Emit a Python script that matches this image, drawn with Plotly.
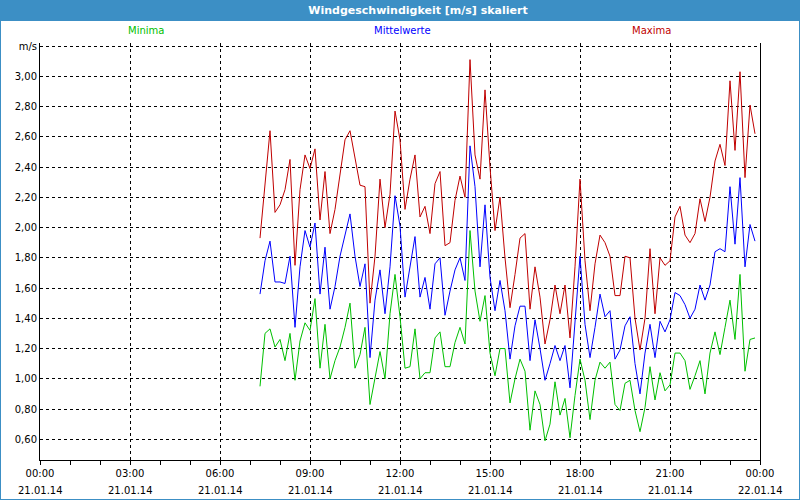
import plotly.graph_objects as go
import pandas as pd

# ---- data (10-minute values, 21.01.14 07:20 .. 23:50) ----
start_time = "2014-01-21 07:20"
n_points = 100

maxima = [
    1.93, 2.29, 2.64, 2.10, 2.15, 2.25, 2.45, 1.75, 2.25, 2.48, 2.39, 2.52, 2.05, 2.37, 1.96, 2.12, 2.36, 2.58,
    2.64, 2.45, 2.28, 2.27, 1.50, 1.81, 2.32, 2.00, 2.22, 2.77, 2.58, 2.12, 2.32, 2.48, 2.07, 2.14, 1.96,
    2.29, 2.37, 1.88, 1.90, 2.18, 2.34, 2.20, 3.11, 2.48, 2.32, 2.91, 2.40, 1.98, 2.20, 1.80, 1.47, 1.69,
    1.93, 1.96, 1.46, 1.74, 1.54, 1.23, 1.39, 1.62, 1.43, 1.62, 1.27, 1.74, 2.32, 1.78, 1.45, 1.76, 1.95,
    1.90, 1.81, 1.55, 1.55, 1.81, 1.80, 1.40, 1.19, 1.40, 1.86, 1.43, 1.80, 1.75, 1.78, 2.07, 2.14, 1.95,
    1.90, 1.96, 2.19, 2.04, 2.20, 2.44, 2.55, 2.41, 2.97, 2.51, 3.03, 2.33, 2.81, 2.62,
]
mittelwerte = [
    1.56, 1.78, 1.91, 1.64, 1.64, 1.63, 1.81, 1.34, 1.74, 1.98, 1.87, 2.03, 1.56, 1.87, 1.46, 1.61, 1.81, 1.94,
    2.09, 1.81, 1.61, 1.76, 1.14, 1.52, 1.72, 1.43, 1.74, 2.21, 2.01, 1.54, 1.74, 1.94, 1.54, 1.67, 1.46,
    1.76, 1.80, 1.42, 1.58, 1.72, 1.80, 1.65, 2.54, 2.27, 1.74, 2.15, 1.67, 1.45, 1.65, 1.45, 1.13, 1.35,
    1.48, 1.48, 1.12, 1.39, 1.20, 0.99, 1.10, 1.22, 1.12, 1.22, 0.94, 1.40, 1.81, 1.36, 1.14, 1.34, 1.56,
    1.41, 1.45, 1.13, 1.19, 1.35, 1.41, 1.10, 0.90, 1.17, 1.36, 1.14, 1.38, 1.31, 1.39, 1.57, 1.55, 1.49,
    1.40, 1.46, 1.62, 1.52, 1.62, 1.84, 1.86, 1.84, 2.27, 1.89, 2.33, 1.74, 2.02, 1.91,
]
minima = [
    0.95, 1.30, 1.33, 1.21, 1.26, 1.12, 1.30, 0.99, 1.25, 1.37, 1.32, 1.53, 1.07, 1.36, 1.00, 1.12, 1.21, 1.34,
    1.50, 1.07, 1.16, 1.34, 0.83, 1.01, 1.18, 1.00, 1.43, 1.69, 1.41, 1.07, 1.08, 1.33, 1.00, 1.04, 1.04,
    1.27, 1.31, 1.08, 1.08, 1.24, 1.34, 1.23, 1.98, 1.58, 1.38, 1.55, 1.17, 1.02, 1.20, 1.20, 0.84, 1.00,
    1.13, 1.05, 0.66, 0.92, 0.83, 0.59, 0.70, 0.98, 0.76, 0.87, 0.61, 0.89, 1.13, 0.99, 0.73, 0.99, 1.11,
    1.07, 1.11, 0.83, 0.79, 0.97, 0.99, 0.79, 0.65, 0.81, 1.08, 0.86, 1.04, 0.92, 0.96, 1.17, 1.17, 1.12,
    0.93, 1.02, 1.12, 0.90, 1.17, 1.31, 1.16, 1.34, 1.52, 1.26, 1.69, 1.05, 1.26, 1.27,
]

x_tick_vals = ["2014-01-21 00:00", "2014-01-21 03:00", "2014-01-21 06:00", "2014-01-21 09:00",
               "2014-01-21 12:00", "2014-01-21 15:00", "2014-01-21 18:00", "2014-01-21 21:00",
               "2014-01-22 00:00"]
x_tick_times = ["00:00", "03:00", "06:00", "09:00", "12:00", "15:00", "18:00", "21:00", "00:00"]
x_tick_dates = ["21.01.14"] * 8 + ["22.01.14"]

y_tick_vals = [0.6, 0.8, 1.0, 1.2, 1.4, 1.6, 1.8, 2.0, 2.2, 2.4, 2.6, 2.8, 3.0, 3.2]
y_tick_text = ["0,60", "0,80", "1,00", "1,20", "1,40", "1,60", "1,80", "2,00", "2,20",
               "2,40", "2,60", "2,80", "3,00", "m/s"]

series_names = ["Minima", "Mittelwerte", "Maxima"]
series_colors = ["#00c000", "#0000ff", "#c00000"]

times = pd.date_range(start_time, periods=n_points, freq="10min")

FONT = "DejaVu Sans"
BORDER = "#3c8fc5"

fig = go.Figure()
for name, vals, col in zip(series_names, [minima, mittelwerte, maxima], series_colors):
    fig.add_trace(go.Scatter(x=times, y=vals, mode="lines", name=name,
                             line=dict(color=col, width=1), showlegend=False))

# plot area in pixels: x 40..760, y 43..460 (top gridline at ~46)
L, R, T, B, W, H = 40, 40, 43, 40, 800, 500
pw, ph = W - L - R, H - T - B


def px_x(p):
    return (p - L) / pw


def px_y(p):
    return (H - B - p) / ph


shapes = [
    dict(type="rect", xref="paper", yref="paper", x0=px_x(0), x1=px_x(800), y0=px_y(21), y1=px_y(0),
         fillcolor=BORDER, line=dict(width=0), layer="above"),
    dict(type="rect", xref="paper", yref="paper", x0=px_x(0), x1=px_x(800), y0=px_y(500), y1=px_y(0),
         fillcolor="rgba(0,0,0,0)", line=dict(color=BORDER, width=2), layer="above"),
]

annotations = []
for name, col, cx in zip(series_names, series_colors, [146, 402, 651]):
    annotations.append(dict(text=name, x=px_x(cx), y=px_y(31), xref="paper", yref="paper",
                            showarrow=False, font=dict(family=FONT, size=10, color=col),
                            xanchor="center", yanchor="middle"))
for tv, td in zip(x_tick_vals, x_tick_dates):
    annotations.append(dict(text=td, x=tv, y=px_y(490), xref="x", yref="paper",
                            showarrow=False, font=dict(family=FONT, size=10, color="#000"),
                            xanchor="center", yanchor="middle"))

fig.update_layout(
    width=W, height=H,
    margin=dict(l=L, r=R, t=T, b=B),
    paper_bgcolor="#ffffff", plot_bgcolor="#ffffff",
    title=dict(text="<b>Windgeschwindigkeit [m/s] skaliert</b>", x=418 / 800, xref="container",
               y=1 - 10.5 / 500, yref="container", xanchor="center", yanchor="middle",
               font=dict(family=FONT, size=11, color="#ffffff")),
    font=dict(family=FONT, size=10, color="#000"),
    shapes=shapes, annotations=annotations, showlegend=False,
    xaxis=dict(type="date", range=[x_tick_vals[0], x_tick_vals[-1]],
               tickmode="array", tickvals=x_tick_vals, ticktext=x_tick_times,
               showgrid=True, gridcolor="#000", gridwidth=1, griddash="3px,3px",
               showline=True, linecolor="#000", linewidth=1, mirror=False,
               ticks="outside", ticklen=4, tickcolor="#000",
               minor=dict(dtick=3600000, ticks="outside", ticklen=4, tickcolor="#000", showgrid=False),
               zeroline=False, tickfont=dict(family=FONT, size=10, color="#000")),
    yaxis=dict(range=[0.463, 3.22], tickmode="array", tickvals=y_tick_vals, ticktext=y_tick_text,
               showgrid=True, gridcolor="#000", gridwidth=1, griddash="3px,3px",
               showline=True, linecolor="#000", linewidth=1, mirror=True,
               ticks="", zeroline=False, tickfont=dict(family=FONT, size=10, color="#000")),
)

fig.write_html("out.html", config={"displayModeBar": False},
               post_script="document.body.style.margin='0';")
